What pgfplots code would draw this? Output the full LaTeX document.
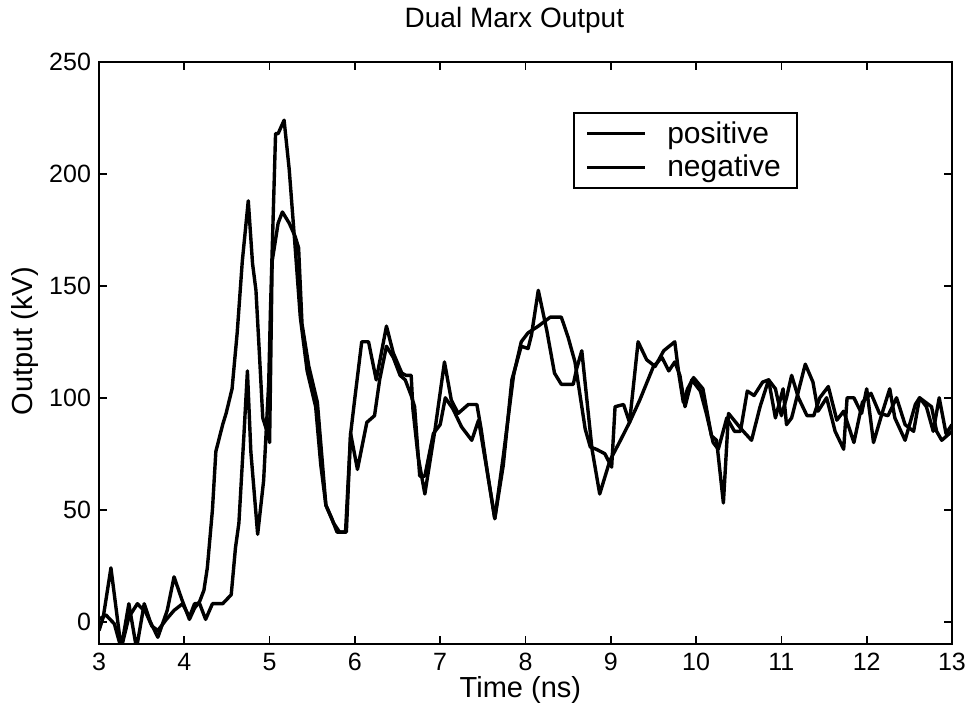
\documentclass[border=0pt]{standalone}
\usepackage{fontspec}
\setmainfont{Liberation Sans}
\usepackage{pgfplots}
\pgfplotsset{compat=1.18}
\begin{document}
\begin{tikzpicture}
\useasboundingbox (-49.5pt,-35.5pt) rectangle (436pt,322pt);
\begin{axis}[
  at={(0,0)}, anchor=south west,
  scale only axis, width=426.5pt, height=291pt,
  xmin=3, xmax=13, ymin=-10, ymax=250,
  xtick={3,4,...,13}, ytick={0,50,...,250},
  tick align=inside, xtick pos=both, ytick pos=both,
  major tick length=4pt,
  every tick/.style={line width=0.9pt, black},
  axis line style={line width=1.4pt},
  /pgf/number format/assume math mode=true,
  ticklabel style={font=\fontsize{12.5}{14}\selectfont},
  xticklabel style={yshift=-1pt},
  yticklabel style={xshift=-0.5pt},
  title={Dual Marx Output},
  title style={font=\fontsize{14}{16}\selectfont, at={(axis description cs:0.487,1.0515)}, anchor=center},
  xlabel={Time (ns)},
  xlabel style={font=\fontsize{14.5}{16}\selectfont, at={(axis description cs:0.494,-0.079)}, anchor=center},
  ylabel={Output (kV)},
  ylabel style={font=\fontsize{14.5}{16}\selectfont, at={(axis description cs:-0.0868,0.52)}, anchor=center, rotate=0},
  legend style={at={(0.8195,0.914)}, anchor=north east, draw=black, line width=0.9pt,
    font=\fontsize{15}{17}\selectfont, inner xsep=6pt, inner ysep=2pt,
    nodes={inner sep=2.2pt}},
  legend cell align=left,
  legend image code/.code={\draw[line width=1.4pt, black] (0pt,0pt) -- (29pt,0pt); \path (37pt,0pt);},
]
\addplot[black, line width=1.7pt, line join=round] coordinates {
(3.00,1) (3.08,3) (3.18,-1) (3.26,-12) (3.35,2) (3.45,8) (3.55,4) (3.62,-2)
(3.69,-4) (3.79,1) (3.88,5) (3.98,8) (4.06,2) (4.12,8) (4.18,8) (4.25,1)
(4.33,8) (4.45,8) (4.55,12) (4.60,33) (4.64,44) (4.70,84) (4.74,112) (4.78,76)
(4.86,39) (4.93,63) (4.99,107) (5.01,139) (5.07,218) (5.10,218) (5.17,224) (5.23,202)
(5.30,167) (5.36,136) (5.44,112) (5.54,96) (5.60,70) (5.66,52) (5.75,44) (5.82,40)
(5.90,40) (5.95,84) (6.00,100) (6.08,125) (6.16,125) (6.25,108) (6.37,132) (6.45,120)
(6.55,111) (6.60,110) (6.66,110) (6.68,95) (6.74,74) (6.82,57) (6.94,86) (7.05,116)
(7.13,99) (7.21,93) (7.33,97) (7.43,97) (7.48,86) (7.56,65) (7.64,46) (7.74,74)
(7.86,110) (7.95,125) (8.03,129) (8.15,132) (8.29,136) (8.42,136) (8.50,127) (8.58,116)
(8.70,86) (8.76,78) (8.83,77) (8.93,75) (9.01,69) (9.05,96) (9.15,97) (9.22,89)
(9.32,125) (9.42,117) (9.52,114) (9.62,121) (9.75,125) (9.80,110) (9.85,98) (9.90,104)
(9.97,109) (10.08,104) (10.18,83) (10.24,81) (10.32,53) (10.38,93) (10.53,86) (10.65,81)
(10.75,96) (10.85,108) (10.93,104) (11.00,92) (11.06,100) (11.12,110) (11.20,100) (11.30,92)
(11.38,92) (11.45,100) (11.55,105) (11.65,90) (11.73,94) (11.85,80) (11.95,98) (12.05,102)
(12.15,93) (12.25,92) (12.35,100) (12.45,88) (12.55,85) (12.62,100) (12.70,96) (12.78,85)
(12.85,100) (12.93,84) (13.00,88)
};
\addlegendentry{positive}
\addplot[black, line width=1.7pt, line join=round] coordinates {
(3.00,-4) (3.05,2) (3.14,24) (3.26,-12) (3.35,8) (3.44,-12) (3.53,8) (3.60,0)
(3.69,-7) (3.80,5) (3.88,20) (3.97,10) (4.06,1) (4.12,6) (4.18,9) (4.23,14)
(4.27,24) (4.33,50) (4.37,76) (4.45,88) (4.49,93) (4.56,104) (4.62,129) (4.68,161)
(4.75,188) (4.80,160) (4.84,148) (4.88,120) (4.92,91) (4.97,85) (5.00,80) (5.03,161)
(5.10,178) (5.15,183) (5.23,178) (5.30,172) (5.34,167) (5.38,133) (5.46,114) (5.56,98)
(5.66,52) (5.73,46) (5.79,40) (5.89,40) (5.95,84) (6.03,68) (6.14,89) (6.23,92)
(6.29,108) (6.37,123) (6.45,118) (6.53,110) (6.59,108) (6.66,101) (6.70,96) (6.76,65)
(6.82,65) (6.92,84) (7.00,88) (7.06,100) (7.15,95) (7.25,87) (7.37,81) (7.45,90)
(7.56,65) (7.64,46) (7.74,70) (7.84,108) (7.95,123) (8.03,122) (8.07,128) (8.15,148)
(8.25,130) (8.34,111) (8.42,106) (8.56,106) (8.60,113) (8.66,121) (8.72,99) (8.78,77)
(8.87,57) (8.99,72) (9.10,80) (9.22,89) (9.34,99) (9.50,114) (9.60,118) (9.68,112)
(9.75,116) (9.81,110) (9.87,96) (9.95,108) (10.05,103) (10.12,93) (10.20,80) (10.26,77)
(10.36,91) (10.45,85) (10.52,85) (10.60,103) (10.68,101) (10.78,107) (10.85,108) (10.93,91)
(11.02,104) (11.06,88) (11.12,91) (11.20,103) (11.28,115) (11.37,107) (11.43,94) (11.53,100)
(11.63,85) (11.73,77) (11.77,100) (11.85,100) (11.94,93) (12.00,104) (12.08,80) (12.18,93)
(12.27,104) (12.33,91) (12.45,81) (12.57,97) (12.62,100) (12.76,96) (12.82,85) (12.88,81)
(13.00,85)
};
\addlegendentry{negative}
\end{axis}
\end{tikzpicture}
\end{document}
